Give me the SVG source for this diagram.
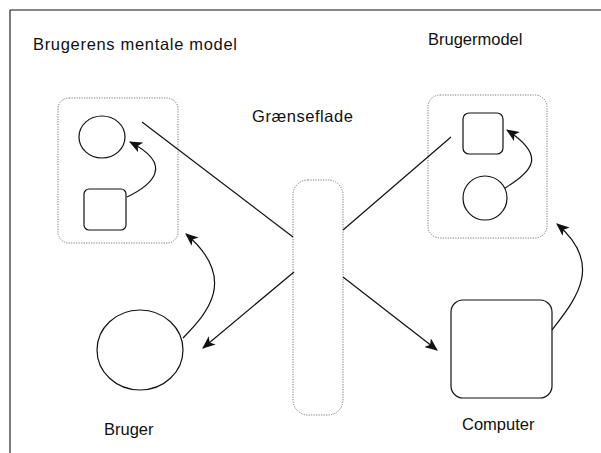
<svg xmlns="http://www.w3.org/2000/svg" width="601" height="453" viewBox="0 0 601 453">
<style>
text{font-family:"Liberation Sans",Arial,sans-serif;font-size:16.5px;fill:#111}
.dot{fill:none;stroke:#777;stroke-width:1;stroke-dasharray:1.2 1.3}
.sh{fill:#fff;stroke:#111;stroke-width:1.2}
.ln{fill:none;stroke:#111;stroke-width:1.2}
.ar{fill:none;stroke:#111;stroke-width:1.2;marker-end:url(#ah)}
</style>
<defs>
<marker id="ah" viewBox="0 0 12 10" refX="11" refY="5" markerWidth="13" markerHeight="11" markerUnits="userSpaceOnUse" orient="auto">
<path d="M0,0 L12,5 L0,10 L3,5 Z" fill="#111"/>
</marker>
</defs>
<rect width="601" height="453" fill="#fff"/>
<g id="frame">
<line x1="10" y1="10" x2="601" y2="10" stroke="#111" stroke-width="1.2"/>
<line x1="10" y1="10" x2="10" y2="453" stroke="#222" stroke-width="1.2"/>
</g>
<g id="labels">
<text x="33" y="50" textLength="204" lengthAdjust="spacing">Brugerens mentale model</text>
<text x="428" y="45">Brugermodel</text>
<text x="252" y="122" textLength="101" lengthAdjust="spacing">Grænseflade</text>
<text x="104" y="435">Bruger</text>
<text x="462" y="430">Computer</text>
</g>
<g id="mental-model">
<rect class="dot" x="58" y="98" width="120" height="145" rx="11"/>
<ellipse class="sh" cx="102" cy="137" rx="23" ry="21"/>
<rect class="sh" x="84" y="189" width="42" height="41" rx="5"/>
</g>
<g id="brugermodel">
<rect class="dot" x="428" y="95" width="119" height="143" rx="12"/>
<rect class="sh" x="463" y="113" width="40" height="41" rx="6"/>
<circle class="sh" cx="485" cy="198" r="22"/>
</g>
<g id="graenseflade">
<rect class="dot" x="293" y="180" width="50" height="235" rx="15"/>
</g>
<g id="bruger">
<ellipse class="sh" cx="140" cy="350" rx="43" ry="40"/>
</g>
<g id="computer">
<rect class="sh" x="451" y="300" width="101" height="98" rx="12"/>
</g>
<g id="connectors">
<path class="ar" d="M127,197 C152,185 175,165 130,142"/>
<path class="ar" d="M505,188 C535,170 545,155 507,130"/>
<path class="ar" d="M183,338 C205,315 240,280 186,234"/>
<path class="ar" d="M552,330 C575,300 605,265 557,224"/>
<line class="ln" x1="142" y1="122" x2="293" y2="237"/>
<line class="ln" x1="343" y1="230" x2="451" y2="137"/>
<path class="ar" d="M294,272 L203,348"/>
<path class="ar" d="M343,277 L437,350"/>
</g>
</svg>
